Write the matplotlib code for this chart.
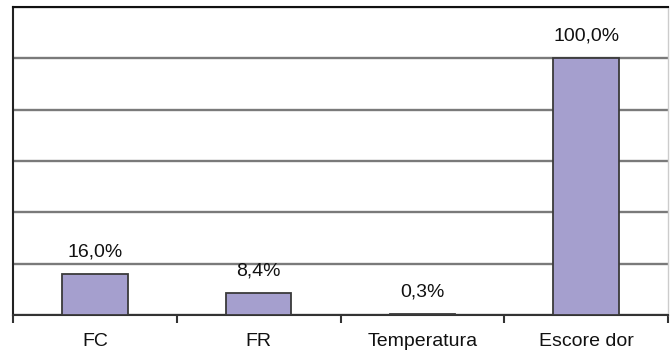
import matplotlib.pyplot as plt

categorias = ['FC', 'FR', 'Temperatura', 'Escore dor']
valores = [16.0, 8.4, 0.3, 100.0]
rotulos = ['16,0%', '8,4%', '0,3%', '100,0%']

plt.rcParams['font.family'] = ['Liberation Sans', 'DejaVu Sans']

fig = plt.figure(figsize=(6.71, 3.5), dpi=100)
ax = fig.add_axes([13 / 671, 35 / 350, 655 / 671, 308 / 350])

x = range(len(categorias))
ax.bar(x, valores, width=0.4, color='#a59fce', edgecolor='#3a3a3a', linewidth=1.3, zorder=3)

for i, v in enumerate(valores):
    ax.annotate(rotulos[i], (i, v), xytext=(0, 10), textcoords='offset points',
                ha='center', va='bottom', fontsize=14, color='#111111')

ax.set_xlim(-0.5, 3.5)
ax.set_ylim(0, 120)
ax.set_yticks(range(0, 121, 20))
ax.yaxis.grid(True, color='#7a7a7a', linewidth=1.7, zorder=0)
ax.tick_params(axis='y', left=False, labelleft=False)

ax.set_xticks([-0.5, 0.5, 1.5, 2.5, 3.5])
ax.set_xticklabels([])
ax.set_xticks(list(x), minor=True)
ax.set_xticklabels(categorias, minor=True, fontsize=14, color='#111111')
ax.tick_params(axis='x', which='major', direction='out', length=6, width=1.5, color='#333333')
ax.tick_params(axis='x', which='minor', length=0, pad=13)

ax.spines['top'].set_color('#111111')
ax.spines['top'].set_linewidth(1.5)
ax.spines['left'].set_color('#222222')
ax.spines['left'].set_linewidth(1.5)
ax.spines['bottom'].set_color('#333333')
ax.spines['bottom'].set_linewidth(1.5)
ax.spines['right'].set_color('#cccccc')
ax.spines['right'].set_linewidth(1)

fig.savefig('out.png', dpi=100)
